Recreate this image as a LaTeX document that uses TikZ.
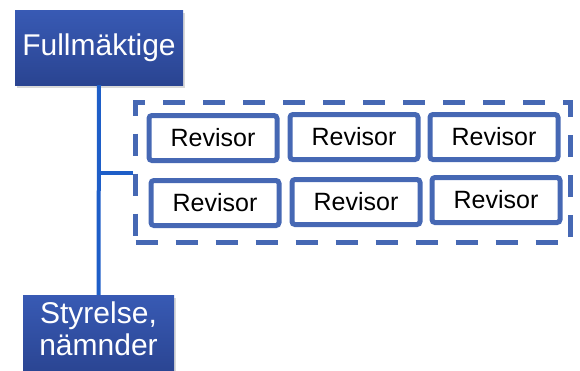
\documentclass[tikz,border=0pt]{standalone}
\usepackage{fontspec}
\setmainfont{Liberation Sans}
\usetikzlibrary{shadows}
\definecolor{orgblue}{RGB}{56,90,180}
\definecolor{orgdark}{RGB}{42,68,145}
\definecolor{revblue}{RGB}{70,104,180}
\definecolor{linkblue}{RGB}{30,94,200}
\begin{document}
\begin{tikzpicture}[x=1pt, y=-1pt,
    orgbox/.style={top color=orgblue, bottom color=orgdark, text=white, align=center, inner sep=0pt,
        drop shadow={opacity=0.3, shadow xshift=2pt, shadow yshift=-3pt}},
    revbox/.style={draw=revblue, line width=5pt, rounded corners=3pt, minimum width=128pt,
        minimum height=45pt, inner sep=0pt, font=\fontsize{25}{28}\selectfont},
    link/.style={draw=linkblue, line width=4pt}]
    \def\revisor#1#2{
        \node[revbox] (#1) at (#2) {Revisor};
    }
    \useasboundingbox (0,0) rectangle (580,370);

    % Fullmaktige (Top)
    \node[orgbox, minimum width=168pt, minimum height=75pt, font=\fontsize{30}{34}\selectfont] (full) at (99,47.5) {Fullmäktige};

    % Styrelse (Bottom)
    \node[orgbox, minimum width=151pt, minimum height=80pt, text depth=12pt, font=\fontsize{30}{32}\selectfont] (styr) at (98.5,335) {Styrelse,\\nämnder};

    % Revisor group
    \node[draw=revblue, line width=5pt, dash pattern=on 22pt off 18pt, minimum width=434.5pt, minimum height=140pt, inner sep=0pt] (grp) at (352.75,172.5) {};

    \revisor{revA}{213,138}
    \revisor{revB}{354,137}
    \revisor{revC}{494,137}
    \revisor{revD}{215,203}
    \revisor{revE}{356,202}
    \revisor{revF}{496,200}

    % Links
    \draw[link] (full.south) -- (styr.north);
    \draw[link] (full.south |- grp.west) -- (grp.west);
\end{tikzpicture}
\end{document}
